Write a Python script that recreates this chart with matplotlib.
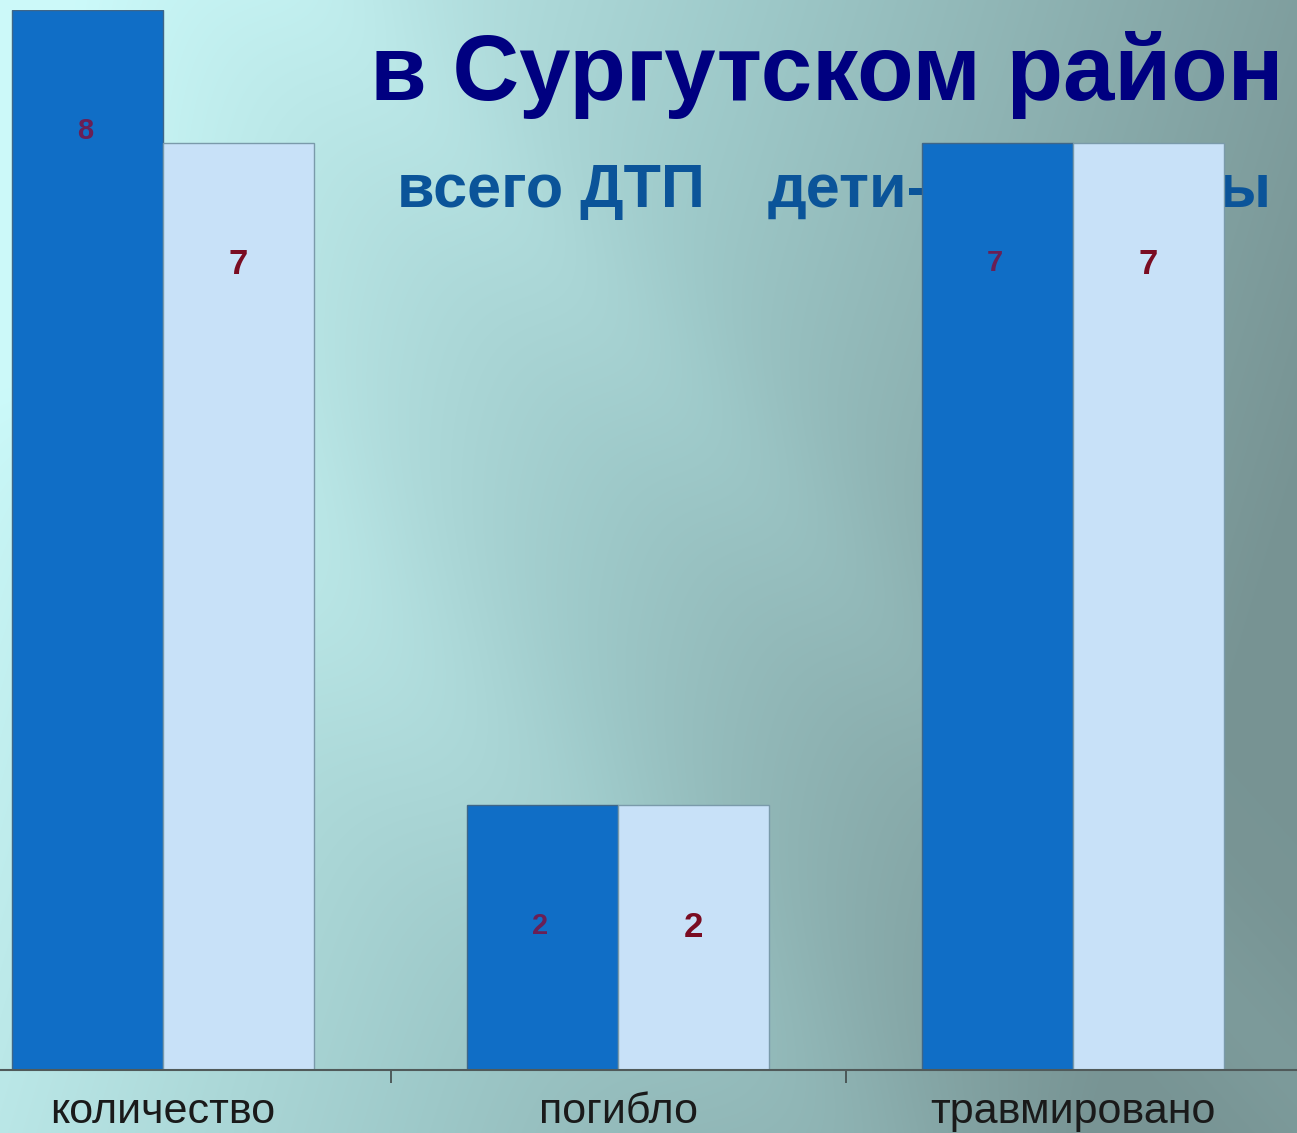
import numpy as np
import matplotlib.pyplot as plt

categories = ['количество', 'погибло', 'травмировано']
vsego_dtp = [8, 2, 7]
deti = [7, 2, 7]

W, H = 1297, 1133
fig = plt.figure(figsize=(W / 100, H / 100), dpi=100)

# slide background: light cyan top-left fading to grey-teal on the right
bg = fig.add_axes([0, 0, 1, 1], zorder=0)
yy, xx = np.mgrid[0:H, 0:W]
u = xx / W
v = yy / H
t = np.clip(0.95 * u + 0.25 * v - 0.05, 0, 1)
# soft diagonal light streaks
d = (xx - 0.9 * yy) / W
t = t - 0.10 * np.exp(-((d + 0.15) / 0.12) ** 2) - 0.06 * np.exp(-((d - 0.25) / 0.08) ** 2)
t = np.clip(t, 0, 1)
light = np.array([0.80, 0.98, 0.98])
mid = np.array([0.62, 0.79, 0.79])
dark = np.array([0.47, 0.58, 0.58])
img = np.where(t[..., None] < 0.5,
               light + (mid - light) * (t[..., None] / 0.5),
               mid + (dark - mid) * ((t[..., None] - 0.5) / 0.5))
bg.imshow(img, aspect='auto', extent=[0, 1, 0, 1])
bg.axis('off')

# titles (behind the bars)
fig.text(370 / W, 1 - 100 / H, 'в Сургутском район', color='#000080',
         fontsize=66.5, fontweight='bold', family='Liberation Sans', zorder=1)
fig.text(397 / W, 1 - 207 / H, 'всего ДТП', color='#0b5499',
         fontsize=44, fontweight='bold', family='Liberation Sans', zorder=1)
fig.text(768 / W, 1 - 207 / H, 'дети-пассажиры', color='#0b5499',
         fontsize=44, fontweight='bold', family='Liberation Sans', zorder=1)

ax = fig.add_axes([0, 63 / H, 1, (1070 - 10) / H], zorder=2)
ax.patch.set_alpha(0)
x = np.arange(len(categories))
w = 151 / 455
b1 = ax.bar(x - w / 2, vsego_dtp, w, color='#106ec6', edgecolor='#3f6688', linewidth=1)
b2 = ax.bar(x + w / 2, deti, w, color='#c8e1f8', edgecolor='#7a9aaa', linewidth=1)

for rect, val in zip(b1, vsego_dtp):
    ax.annotate(str(val), (rect.get_x() + rect.get_width() / 2, val),
                xytext=(-2, -87), textcoords='offset points', ha='center', va='center',
                color='#6a1f55', fontsize=21, fontweight='bold', family='Liberation Sans')
for rect, val in zip(b2, deti):
    ax.annotate(str(val), (rect.get_x() + rect.get_width() / 2, val),
                xytext=(0, -88), textcoords='offset points', ha='center', va='center',
                color='#7a0c22', fontsize=25, fontweight='bold', family='Liberation Sans')

ax.set_xlim(-163 / 455, 1134 / 455)
ax.set_ylim(0, 8)
ax.set_yticks([])
ax.set_xticks(x)
ax.set_xticklabels(categories, fontsize=31, family='Liberation Sans', color='#1a1a1a')
ax.tick_params(axis='x', length=0, pad=16)
ax.set_xticks([0.5, 1.5], minor=True)
ax.tick_params(axis='x', which='minor', length=9, width=1.2, color='#404848')
for s in ['top', 'left', 'right']:
    ax.spines[s].set_visible(False)
ax.spines['bottom'].set_color('#505a5a')
ax.spines['bottom'].set_linewidth(1.5)

fig.savefig('out.png', dpi=100)
